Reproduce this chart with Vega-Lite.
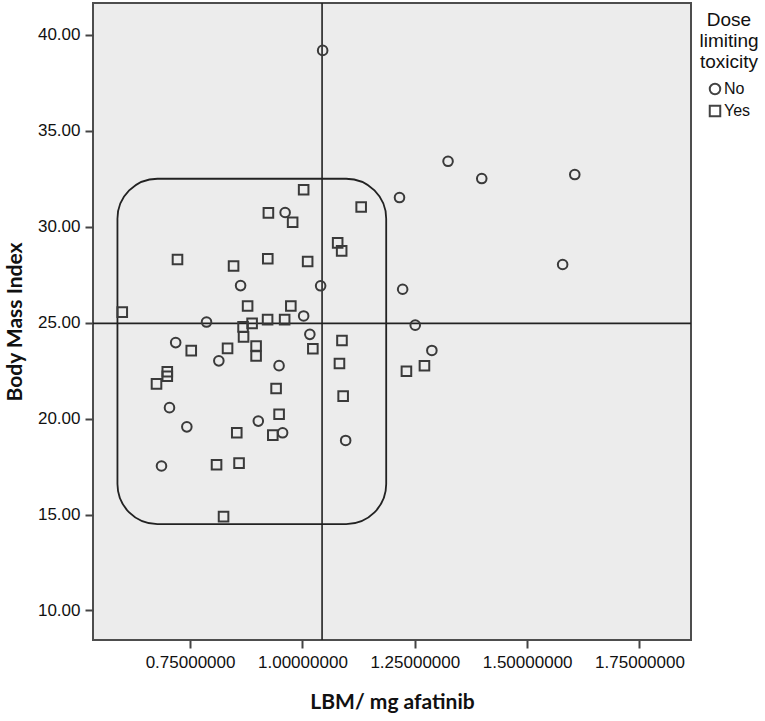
{
  "$schema": "https://vega.github.io/schema/vega-lite/v6.json",
  "width": 598,
  "height": 637,
  "autosize": {"type": "none"},
  "padding": {"left": 93, "top": 3, "right": 74, "bottom": 81},
  "background": "white",
  "config": {
    "view": {"fill": "#ececec", "stroke": "#4d4d4d", "strokeWidth": 2},
    "font": "Liberation Sans",
    "axis": {
      "grid": false,
      "domain": false,
      "tickColor": "#444444",
      "tickWidth": 2,
      "tickSize": 8,
      "labelFont": "Liberation Sans",
      "labelFontSize": 17,
      "labelColor": "#111111",
      "titleFont": "Lato",
      "titleFontSize": 21,
      "titleFontWeight": "bold",
      "titleColor": "#111111"
    },
    "legend": {
      "orient": "none",
      "legendX": 606,
      "legendY": 8,
      "titleFont": "Liberation Sans",
      "titleFontSize": 19,
      "titleFontWeight": "normal",
      "titleColor": "#111111",
      "titleLineHeight": 21,
      "titleAlign": "center",
      "titleAnchor": "middle",
      "titlePadding": 9,
      "labelFont": "Liberation Sans",
      "labelFontSize": 16,
      "labelColor": "#111111",
      "labelOffset": 1,
      "rowPadding": 2,
      "symbolSize": 110,
      "symbolStrokeWidth": 2,
      "symbolStrokeColor": "#444444",
      "symbolFillColor": "transparent"
    }
  },
  "layer": [
    {
      "data": {"values": [{"x1": 0.5884, "x2": 1.1864, "y1": 32.5, "y2": 14.5}]},
      "mark": {"type": "rect", "cornerRadius": 40, "fill": "transparent", "stroke": "#222222", "strokeWidth": 1.8},
      "encoding": {
        "x": {"field": "x1", "type": "quantitative", "scale": {"domain": [0.534, 1.8646], "nice": false, "zero": false}, "axis": {"title": "LBM/ mg afatinib", "values": [0.75, 1, 1.25, 1.5, 1.75], "format": ".8f", "labelPadding": 6, "titlePadding": 21}},
        "x2": {"field": "x2"},
        "y": {"field": "y1", "type": "quantitative", "scale": {"domain": [8.46, 41.66], "nice": false, "zero": false}, "axis": {"title": "Body Mass Index", "values": [10, 15, 20, 25, 30, 35, 40], "format": ".2f", "labelPadding": 5, "titlePadding": 12}},
        "y2": {"field": "y2"}
      }
    },
    {
      "data": {"values": [{"meanLbm": 1.0437}]},
      "mark": {"type": "rule", "color": "#222222", "strokeWidth": 1.6},
      "encoding": {
        "x": {"field": "meanLbm", "type": "quantitative", "scale": {"domain": [0.534, 1.8646], "nice": false, "zero": false}, "axis": {"title": "LBM/ mg afatinib"}}
      }
    },
    {
      "data": {"values": [{"meanBmi": 24.96}]},
      "mark": {"type": "rule", "color": "#222222", "strokeWidth": 1.6},
      "encoding": {
        "y": {"field": "meanBmi", "type": "quantitative", "scale": {"domain": [8.46, 41.66], "nice": false, "zero": false}, "axis": {"title": "Body Mass Index"}}
      }
    },
    {
      "data": {
        "values": [
          {"lbm": 1.045, "bmi": 39.19, "dlt": "No"},
          {"lbm": 1.324, "bmi": 33.41, "dlt": "No"},
          {"lbm": 1.399, "bmi": 32.51, "dlt": "No"},
          {"lbm": 1.606, "bmi": 32.72, "dlt": "No"},
          {"lbm": 1.216, "bmi": 31.52, "dlt": "No"},
          {"lbm": 1.579, "bmi": 28.03, "dlt": "No"},
          {"lbm": 1.223, "bmi": 26.74, "dlt": "No"},
          {"lbm": 1.251, "bmi": 24.87, "dlt": "No"},
          {"lbm": 1.288, "bmi": 23.55, "dlt": "No"},
          {"lbm": 0.9615, "bmi": 30.74, "dlt": "No"},
          {"lbm": 0.8624, "bmi": 26.93, "dlt": "No"},
          {"lbm": 1.0405, "bmi": 26.92, "dlt": "No"},
          {"lbm": 0.7866, "bmi": 25.03, "dlt": "No"},
          {"lbm": 0.718, "bmi": 23.96, "dlt": "No"},
          {"lbm": 0.814, "bmi": 23.01, "dlt": "No"},
          {"lbm": 0.7042, "bmi": 20.57, "dlt": "No"},
          {"lbm": 1.0027, "bmi": 25.35, "dlt": "No"},
          {"lbm": 1.0165, "bmi": 24.39, "dlt": "No"},
          {"lbm": 0.948, "bmi": 22.76, "dlt": "No"},
          {"lbm": 0.7428, "bmi": 19.57, "dlt": "No"},
          {"lbm": 0.9018, "bmi": 19.87, "dlt": "No"},
          {"lbm": 0.9559, "bmi": 19.26, "dlt": "No"},
          {"lbm": 1.0962, "bmi": 18.86, "dlt": "No"},
          {"lbm": 0.6864, "bmi": 17.53, "dlt": "No"},
          {"lbm": 1.2314, "bmi": 22.47, "dlt": "Yes"},
          {"lbm": 1.2715, "bmi": 22.75, "dlt": "Yes"},
          {"lbm": 0.722, "bmi": 28.29, "dlt": "Yes"},
          {"lbm": 0.8468, "bmi": 27.95, "dlt": "Yes"},
          {"lbm": 1.0027, "bmi": 31.93, "dlt": "Yes"},
          {"lbm": 0.9243, "bmi": 30.72, "dlt": "Yes"},
          {"lbm": 0.9782, "bmi": 30.23, "dlt": "Yes"},
          {"lbm": 1.1307, "bmi": 31.03, "dlt": "Yes"},
          {"lbm": 1.0784, "bmi": 29.16, "dlt": "Yes"},
          {"lbm": 1.0873, "bmi": 28.74, "dlt": "Yes"},
          {"lbm": 0.9229, "bmi": 28.33, "dlt": "Yes"},
          {"lbm": 1.0116, "bmi": 28.19, "dlt": "Yes"},
          {"lbm": 0.5991, "bmi": 25.55, "dlt": "Yes"},
          {"lbm": 0.7526, "bmi": 23.54, "dlt": "Yes"},
          {"lbm": 0.8334, "bmi": 23.66, "dlt": "Yes"},
          {"lbm": 0.6993, "bmi": 22.44, "dlt": "Yes"},
          {"lbm": 0.6993, "bmi": 22.21, "dlt": "Yes"},
          {"lbm": 0.6753, "bmi": 21.81, "dlt": "Yes"},
          {"lbm": 0.878, "bmi": 25.87, "dlt": "Yes"},
          {"lbm": 0.9742, "bmi": 25.87, "dlt": "Yes"},
          {"lbm": 0.9225, "bmi": 25.16, "dlt": "Yes"},
          {"lbm": 0.9604, "bmi": 25.16, "dlt": "Yes"},
          {"lbm": 0.888, "bmi": 24.96, "dlt": "Yes"},
          {"lbm": 0.8679, "bmi": 24.78, "dlt": "Yes"},
          {"lbm": 0.869, "bmi": 24.26, "dlt": "Yes"},
          {"lbm": 1.0232, "bmi": 23.64, "dlt": "Yes"},
          {"lbm": 0.8969, "bmi": 23.78, "dlt": "Yes"},
          {"lbm": 0.8969, "bmi": 23.26, "dlt": "Yes"},
          {"lbm": 1.088, "bmi": 24.07, "dlt": "Yes"},
          {"lbm": 1.0824, "bmi": 22.87, "dlt": "Yes"},
          {"lbm": 1.0906, "bmi": 21.17, "dlt": "Yes"},
          {"lbm": 0.9414, "bmi": 21.57, "dlt": "Yes"},
          {"lbm": 0.9481, "bmi": 20.23, "dlt": "Yes"},
          {"lbm": 0.8539, "bmi": 19.26, "dlt": "Yes"},
          {"lbm": 0.9341, "bmi": 19.14, "dlt": "Yes"},
          {"lbm": 0.8089, "bmi": 17.59, "dlt": "Yes"},
          {"lbm": 0.859, "bmi": 17.68, "dlt": "Yes"},
          {"lbm": 0.8245, "bmi": 14.89, "dlt": "Yes"}
        ]
      },
      "mark": {"type": "point", "filled": false, "strokeWidth": 2, "size": 92, "opacity": 1, "color": "#3a3a3a"},
      "encoding": {
        "x": {"field": "lbm", "type": "quantitative", "scale": {"domain": [0.534, 1.8646], "nice": false, "zero": false}, "axis": {"title": "LBM/ mg afatinib"}},
        "y": {"field": "bmi", "type": "quantitative", "scale": {"domain": [8.46, 41.66], "nice": false, "zero": false}, "axis": {"title": "Body Mass Index"}},
        "shape": {
          "field": "dlt",
          "type": "nominal",
          "scale": {"domain": ["No", "Yes"], "range": ["circle", "square"]},
          "legend": {"title": ["Dose", "limiting", "toxicity"]}
        }
      }
    }
  ]
}
